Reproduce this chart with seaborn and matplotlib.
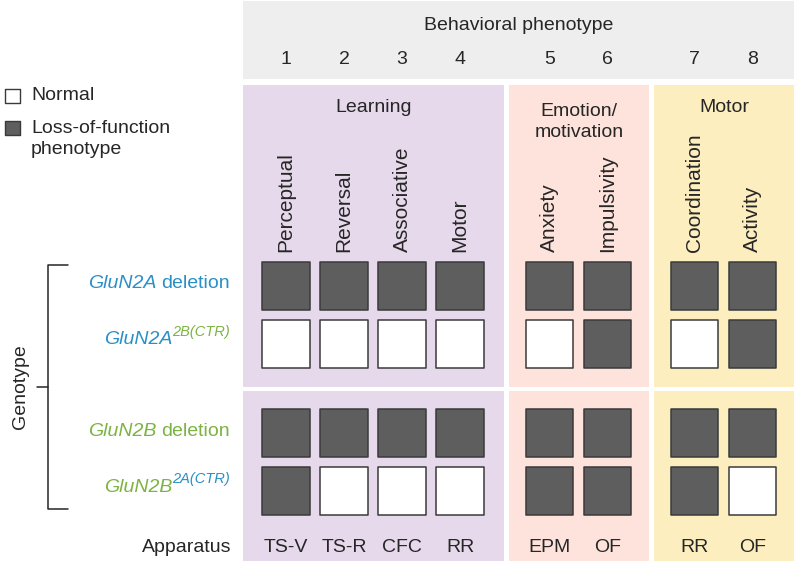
import matplotlib
matplotlib.use("Agg")
import matplotlib.pyplot as plt
from matplotlib.patches import Rectangle
import pandas as pd
import seaborn as sns

# behaviour columns
numbers = ["1", "2", "3", "4", "5", "6", "7", "8"]
behaviors = ["Perceptual", "Reversal", "Associative", "Motor",
             "Anxiety", "Impulsivity", "Coordination", "Activity"]
apparatus = ["TS-V", "TS-R", "CFC", "RR", "EPM", "OF", "RR", "OF"]
domains = ["Learning", "Emotion/\nmotivation", "Motor"]
domain_of = [0, 0, 0, 0, 1, 1, 2, 2]

# genotype rows
geno_main = ["GluN2A", "GluN2A", "GluN2B", "GluN2B"]
geno_sup = ["", "2B(CTR)", "", "2A(CTR)"]
geno_block = [0, 0, 1, 1]

# 1 = loss-of-function phenotype, 0 = normal
loss = [
    [1, 1, 1, 1, 1, 1, 1, 1],
    [0, 0, 0, 0, 0, 1, 0, 1],
    [1, 1, 1, 1, 1, 1, 1, 1],
    [1, 0, 0, 0, 1, 1, 1, 0],
]
status_names = ["Normal", "Loss-of-function"]

# layout (pixel space)
STEP = 58
group_x0 = [286, 549.5, 694.5]
block_y0 = [286, 433]
panel_x = [(243, 504), (509, 649), (654, 794)]
panel_bg = ["#e5d9eb", "#fde3dc", "#fdeec0"]
block_y = [(85, 387), (391, 561)]
BLUE = "#2a8fc7"
GREEN = "#7cb342"
TXT = "#262626"
gene_color = {"GluN2A": BLUE, "GluN2B": GREEN}
sup_color = {"2B(CTR)": GREEN, "2A(CTR)": BLUE}

col_x = []
for i, d in enumerate(domain_of):
    k = domain_of[:i].count(d)
    col_x.append(group_x0[d] + k * STEP)
row_y = []
for r, b in enumerate(geno_block):
    k = geno_block[:r].count(b)
    row_y.append(block_y0[b] + k * STEP)

rows = []
for r in range(len(loss)):
    for c in range(len(behaviors)):
        rows.append({"x": col_x[c], "y": row_y[r],
                     "status": status_names[loss[r][c]]})
df = pd.DataFrame(rows)

sns.set_theme(style="white")
plt.rcParams["font.family"] = ["Liberation Sans", "DejaVu Sans"]

fig = plt.figure(figsize=(8, 5.67), dpi=100)
ax = fig.add_axes([0, 0, 1, 1])
ax.set_xlim(0, 800)
ax.set_ylim(567, 0)

# panels
ax.add_patch(Rectangle((243, 1), 551, 78, color="#eeeeee", zorder=0, lw=0))
for (x0, x1), col in zip(panel_x, panel_bg):
    for y0, y1 in block_y:
        ax.add_patch(Rectangle((x0, y0), x1 - x0, y1 - y0, color=col, zorder=0, lw=0))

sns.scatterplot(data=df, x="x", y="y", hue="status",
                palette={"Normal": "white", "Loss-of-function": "#5e5e5e"},
                marker="s", s=1150, edgecolor="#3a3a3a", linewidth=1.1,
                legend=False, ax=ax, zorder=2)

# header
ax.text(519, 25, "Behavioral phenotype", ha="center", va="center", fontsize=14, color=TXT)
for x, n in zip(col_x, numbers):
    ax.text(x, 60, n, ha="center", va="center", fontsize=14, color=TXT)
for d, name in enumerate(domains):
    cx = (panel_x[d][0] + panel_x[d][1]) / 2
    cy = 122 if "\n" in name else 108
    ax.text(cx, cy, name, ha="center", va="center", fontsize=14,
            color=TXT, linespacing=1.25)
for x, b in zip(col_x, behaviors):
    ax.text(x, 252, b, ha="center", va="bottom", rotation=90, fontsize=15, color=TXT)
for x, a in zip(col_x, apparatus):
    ax.text(x, 548, a, ha="center", va="center", fontsize=14, color=TXT)
ax.text(231, 548, "Apparatus", ha="right", va="center", fontsize=14, color=TXT)

# genotype labels
renderer = fig.canvas.get_renderer()
inv = ax.transData.inverted()
for y, m, s in zip(row_y, geno_main, geno_sup):
    if s == "":
        t = ax.text(230, y - 2, "deletion", ha="right", va="center", fontsize=14,
                    color=gene_color[m])
        bb = t.get_window_extent(renderer).transformed(inv)
        ax.text(bb.x0 - 5, y - 2, m, ha="right", va="center", fontsize=14,
                style="italic", color=gene_color[m])
    else:
        t = ax.text(230, y - 12, s, ha="right", va="center", fontsize=10.5,
                    style="italic", color=sup_color[s])
        bb = t.get_window_extent(renderer).transformed(inv)
        ax.text(bb.x0, y - 4, m, ha="right", va="center", fontsize=14,
                style="italic", color=gene_color[m])

# bracket
ax.plot([68, 48, 48, 68], [265, 265, 509, 509], color=TXT, lw=1.1)
ax.plot([37, 48], [387, 387], color=TXT, lw=1.1)
ax.text(20, 387, "Genotype", ha="center", va="center", rotation=90, fontsize=14, color=TXT)

# legend
ax.scatter([12.5, 12.5], [96, 128], marker="s", s=105,
           c=["white", "#5e5e5e"], edgecolors="#3a3a3a", linewidths=1.0)
ax.text(31, 96, "Normal", ha="left", va="center", fontsize=14, color=TXT)
ax.text(31, 139, "Loss-of-function\nphenotype", ha="left", va="center",
        fontsize=14, color=TXT, linespacing=1.35)

ax.set_xlim(0, 800)
ax.set_ylim(567, 0)
ax.axis("off")

fig.savefig("out.png", dpi=100)
